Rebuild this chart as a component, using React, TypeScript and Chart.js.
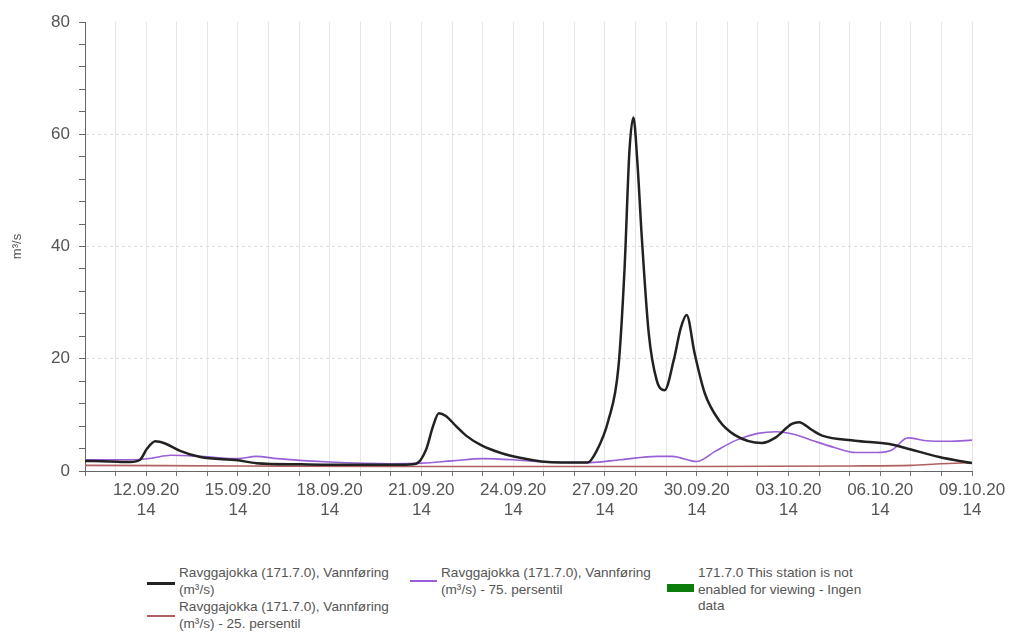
import React, { useEffect, useRef } from "react";
import { Chart, registerables } from "chart.js";

Chart.register(...registerables);

// Day offsets are measured from 10.09.20 14:00
const flowDays = [0, 0.82, 1.48, 1.8, 2.03, 2.3, 2.62, 3.11, 3.77, 5.0, 5.6, 7.05, 8.69, 10.33, 10.82, 11.15, 11.38, 11.57, 11.8, 12.13, 12.46, 12.95, 13.6, 14.26, 14.92, 15.57, 16.43, 16.72, 17.11, 17.44, 17.64, 17.8, 17.93, 18.06, 18.2, 18.43, 18.69, 18.95, 19.25, 19.48, 19.67, 19.93, 20.26, 20.72, 21.25, 22.13, 22.56, 23.11, 23.34, 23.77, 24.1, 25.18, 26.3, 26.82, 27.93, 29];
const flowValues = [1.8, 1.7, 1.6, 2.0, 4.0, 5.3, 4.9, 3.6, 2.5, 1.9, 1.4, 1.2, 1.1, 1.1, 1.3, 3.8, 8.0, 10.3, 9.8, 8.0, 6.3, 4.6, 3.2, 2.3, 1.7, 1.5, 1.5, 3.5, 9.0, 18.5, 36, 57, 63, 55, 42, 24.6, 16.2, 14.4, 19.8, 25.5, 27.8, 21, 13.9, 9.1, 6.4, 5.0, 5.9, 8.4, 8.7, 7.3, 6.3, 5.4, 4.8, 4.1, 2.5, 1.4];

const p75Days = [0, 1.5, 2.2, 2.8, 3.8, 5.0, 5.6, 6.3, 8, 10, 11, 12, 13, 14, 15, 16.5, 17.5, 18.7, 19.2, 20, 20.6, 21.3, 22, 22.6, 23.2, 23.8, 24.5, 25.2, 25.9, 26.4, 26.9, 27.5, 28.3, 29];
const p75Values = [2.0, 2.0, 2.3, 2.8, 2.6, 2.2, 2.6, 2.2, 1.6, 1.3, 1.4, 1.8, 2.2, 2.0, 1.6, 1.5, 2.0, 2.6, 2.6, 1.7, 3.5, 5.5, 6.7, 7.0, 6.5, 5.4, 4.2, 3.3, 3.3, 3.8, 5.9, 5.4, 5.3, 5.5];

const p25Days = [0, 5, 10, 15, 20, 25, 27, 28, 29];
const p25Values = [1.0, 0.9, 0.8, 0.8, 0.8, 0.9, 1.0, 1.3, 1.5];

const xTickDays = [2, 5, 8, 11, 14, 17, 20, 23, 26, 29];
const xTickLabels = ["12.09.20", "15.09.20", "18.09.20", "21.09.20", "24.09.20", "27.09.20", "30.09.20", "03.10.20", "06.10.20", "09.10.20"];
const xTickHour = "14";

const seriesNames = [
  ["Ravggajokka (171.7.0), Vannføring", "(m³/s)"],
  ["Ravggajokka (171.7.0), Vannføring", "(m³/s) - 25. persentil"],
  ["Ravggajokka (171.7.0), Vannføring", "(m³/s) - 75. persentil"],
  ["171.7.0 This station is not", "enabled for viewing - Ingen", "data"],
];

const FONT = "'Liberation Sans', Arial, sans-serif";

function toPoints(days: number[], vals: number[]) {
  return days.map((d, i) => ({ x: d, y: vals[i] }));
}

export default function App() {
  const ref = useRef<HTMLCanvasElement | null>(null);

  useEffect(() => {
    if (!ref.current) return;
    const chart = new Chart(ref.current, {
      type: "line",
      data: {
        datasets: [
          {
            label: seriesNames[0].join(" "),
            data: toPoints(flowDays, flowValues),
            borderColor: "#222222",
            borderWidth: 2.5,
            pointRadius: 0,
            cubicInterpolationMode: "monotone",
          },
          {
            label: seriesNames[2].join(" "),
            data: toPoints(p75Days, p75Values),
            borderColor: "#9a5fd6",
            borderWidth: 1.6,
            pointRadius: 0,
            cubicInterpolationMode: "monotone",
          },
          {
            label: seriesNames[1].join(" "),
            data: toPoints(p25Days, p25Values),
            borderColor: "#b06060",
            borderWidth: 1.6,
            pointRadius: 0,
            cubicInterpolationMode: "monotone",
          },
        ],
      },
      options: {
        animation: false,
        responsive: false,
        maintainAspectRatio: false,
        layout: { padding: { top: 22, right: 40, left: 0, bottom: 0 } },
        plugins: { legend: { display: false }, tooltip: { enabled: false } },
        scales: {
          x: {
            type: "linear",
            min: 0,
            max: 29,
            afterBuildTicks: (scale: any) => {
              const t = [];
              for (let d = 0; d <= 29; d++) t.push({ value: d });
              scale.ticks = t;
            },
            afterFit: (scale: any) => {
              scale.height = 74;
            },
            ticks: {
              autoSkip: false,
              maxRotation: 0,
              padding: 4,
              color: "#555",
              font: { family: FONT, size: 17 },
              callback: (v: any) => {
                const i = xTickDays.indexOf(Number(v));
                return i >= 0 ? [xTickLabels[i], xTickHour] : "";
              },
            },
            grid: { color: "#e6e6e6", tickColor: "#777", tickLength: 5 },
            border: { color: "#666", width: 1 },
          },
          y: {
            min: 0,
            max: 80,
            afterBuildTicks: (scale: any) => {
              const t = [];
              for (let v = 0; v <= 80; v += 4) t.push({ value: v });
              scale.ticks = t;
            },
            afterFit: (scale: any) => {
              scale.width = 85;
            },
            ticks: {
              autoSkip: false,
              padding: 9,
              color: "#555",
              font: { family: FONT, size: 17 },
              callback: (v: any) => (Number(v) % 20 === 0 ? String(v) : ""),
            },
            grid: {
              color: (ctx: any) => {
                const v = ctx.tick ? ctx.tick.value : 0;
                return v % 20 === 0 && v > 0 && v < 80 ? "#dcdcdc" : "rgba(0,0,0,0)";
              },
              tickColor: "#666",
              tickLength: 6,
            },
            border: { color: "#666", width: 1, dash: [3, 3] },
            title: {
              display: true,
              text: "m³/s",
              color: "#555",
              font: { family: FONT, size: 13 },
              padding: { top: 10, bottom: 0 },
            },
          },
        },
      },
    } as any);
    return () => chart.destroy();
  }, []);

  const textStyle: React.CSSProperties = {
    position: "absolute",
    fontFamily: FONT,
    fontSize: 13.6,
    lineHeight: "16.5px",
    color: "#555",
    whiteSpace: "nowrap",
  };

  return (
    <div style={{ position: "fixed", left: 0, top: 0, width: 1012, height: 635, background: "#fff" }}>
      <canvas ref={ref} width={1012} height={545} style={{ position: "absolute", left: 0, top: 0, width: 1012, height: 545 }} />
      <div style={{ position: "absolute", left: 147, top: 582, width: 28, height: 3, background: "#222" }} />
      <div style={{ ...textStyle, left: 179, top: 565 }}>
        {seriesNames[0][0]}<br />{seriesNames[0][1]}
      </div>
      <div style={{ position: "absolute", left: 147, top: 615, width: 28, height: 2, background: "#b06060" }} />
      <div style={{ ...textStyle, left: 179, top: 599 }}>
        {seriesNames[1][0]}<br />{seriesNames[1][1]}
      </div>
      <div style={{ position: "absolute", left: 410, top: 580, width: 27, height: 2, background: "#9a5fd6" }} />
      <div style={{ ...textStyle, left: 441, top: 565 }}>
        {seriesNames[2][0]}<br />{seriesNames[2][1]}
      </div>
      <div style={{ position: "absolute", left: 667, top: 584, width: 27, height: 8, background: "#0a7d0a" }} />
      <div style={{ ...textStyle, left: 698, top: 565 }}>
        {seriesNames[3][0]}<br />{seriesNames[3][1]}<br />{seriesNames[3][2]}
      </div>
    </div>
  );
}
